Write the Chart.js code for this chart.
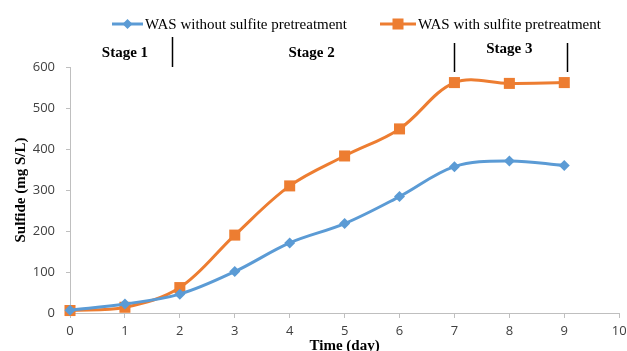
<!DOCTYPE html>
<html>
<head>
<meta charset="utf-8">
<script src="https://cdn.jsdelivr.net/npm/chart.js@4/dist/chart.umd.min.js"></script>
<style>
  html, body { margin: 0; padding: 0; background: #fff; }
  #wrap { width: 627px; height: 351px; }
</style>
</head>
<body>
<div id="wrap"><canvas id="sulfideChart" width="627" height="351"></canvas></div>
<script>
const days = [0, 1, 2, 3, 4, 5, 6, 7, 8, 9];
const withoutSulfite = [7, 22, 46, 101, 171, 218, 284, 357, 371, 360];
const withSulfite = [6, 14, 62, 190, 310, 383, 449, 562, 560, 562];
const seriesNames = ["WAS without sulfite pretreatment", "WAS with sulfite pretreatment"];
const stageNames = ["Stage 1", "Stage 2", "Stage 3"];
const stageCenters = [1, 4.4, 8];
const stageDividers = [1.85, 7, 9.05];

const BLUE = "#5B9BD5";
const ORANGE = "#ED7D31";
const AXIS = "#bfbfbf";

// legend + stage annotations drawn on top
const annotations = {
  id: "annotations",
  afterDraw(chart) {
    const { ctx, chartArea, scales } = chart;
    const x = scales.x;
    ctx.save();

    // legend
    ctx.font = "15px 'Liberation Serif'";
    ctx.textBaseline = "middle";
    ctx.textAlign = "left";
    const legendY = 24;
    const items = [
      { start: 112, len: 31, color: BLUE, style: "diamond", text: seriesNames[0] },
      { start: 380, len: 36, color: ORANGE, style: "square", text: seriesNames[1] },
    ];
    items.forEach((it) => {
      ctx.strokeStyle = it.color;
      ctx.lineWidth = 3;
      ctx.beginPath();
      ctx.moveTo(it.start, legendY);
      ctx.lineTo(it.start + it.len, legendY);
      ctx.stroke();
      const cx = it.start + it.len / 2;
      ctx.fillStyle = it.color;
      if (it.style === "diamond") {
        ctx.beginPath();
        ctx.moveTo(cx, legendY - 5);
        ctx.lineTo(cx + 5, legendY);
        ctx.lineTo(cx, legendY + 5);
        ctx.lineTo(cx - 5, legendY);
        ctx.closePath();
        ctx.fill();
      } else {
        ctx.fillRect(cx - 5.5, legendY - 5.5, 11, 11);
      }
      ctx.fillStyle = "#000";
      ctx.fillText(it.text, it.start + it.len + 2, legendY + 1);
    });

    // stage labels
    ctx.font = "bold 15px 'Liberation Serif'";
    ctx.textAlign = "center";
    const labelY = [chartArea.top - 14, chartArea.top - 14, chartArea.top - 18];
    stageNames.forEach((name, i) => {
      ctx.fillText(name, x.getPixelForValue(stageCenters[i]), labelY[i]);
    });

    // stage divider lines
    ctx.strokeStyle = "#000";
    ctx.lineWidth = 1.5;
    const spans = [[-30, 0], [-24, 5], [-24, 5]];
    stageDividers.forEach((d, i) => {
      const px = Math.round(x.getPixelForValue(d)) + 0.5;
      ctx.beginPath();
      ctx.moveTo(px, chartArea.top + spans[i][0]);
      ctx.lineTo(px, chartArea.top + spans[i][1]);
      ctx.stroke();
    });
    ctx.restore();
  },
};

const ctx = document.getElementById("sulfideChart").getContext("2d");

new Chart(ctx, {
  type: "line",
  data: {
    datasets: [
      {
        label: seriesNames[0],
        data: days.map((d, i) => ({ x: d, y: withoutSulfite[i] })),
        borderColor: BLUE,
        backgroundColor: BLUE,
        borderWidth: 3,
        tension: 0.35,
        pointStyle: "rectRot",
        pointRadius: 5.5,
        pointBorderWidth: 0,
      },
      {
        label: seriesNames[1],
        data: days.map((d, i) => ({ x: d, y: withSulfite[i] })),
        borderColor: ORANGE,
        backgroundColor: ORANGE,
        borderWidth: 3,
        tension: 0.35,
        pointStyle: "rect",
        pointRadius: 7.8,
        pointBorderWidth: 0,
      },
    ],
  },
  options: {
    responsive: false,
    animation: false,
    clip: false,
    layout: { padding: { top: 67, right: 7, bottom: 0, left: 0 } },
    plugins: {
      legend: { display: false },
      tooltip: { enabled: false },
    },
    scales: {
      x: {
        type: "linear",
        min: 0,
        max: 10,
        afterFit(scale) {
          scale.height = 38;
          scale.paddingLeft = 0;
          scale.paddingRight = 0;
        },
        grid: { drawOnChartArea: false, drawTicks: true, tickLength: 5, color: AXIS },
        border: { color: AXIS, width: 1 },
        ticks: {
          stepSize: 1,
          padding: 5,
          color: "#404040",
          maxRotation: 0,
          font: { family: "'Open Sans'", size: 13 },
        },
        title: {
          display: true,
          text: "Time (day)",
          color: "#000",
          padding: { top: 0, bottom: -4 },
          font: { family: "'Liberation Serif'", size: 15, weight: "bold" },
        },
      },
      y: {
        min: 0,
        max: 600,
        afterFit(scale) {
          scale.width = 70;
          scale.paddingTop = 0;
          scale.paddingBottom = 0;
        },
        grid: { drawOnChartArea: false, drawTicks: true, tickLength: 4, color: AXIS },
        border: { color: AXIS, width: 1 },
        ticks: {
          stepSize: 100,
          padding: 11,
          color: "#404040",
          font: { family: "'Open Sans'", size: 13 },
        },
        title: {
          display: true,
          text: "Sulfide (mg S/L)",
          color: "#000",
          padding: { top: 12, bottom: 0 },
          font: { family: "'Liberation Serif'", size: 15, weight: "bold" },
        },
      },
    },
  },
  plugins: [annotations],
});
</script>
</body>
</html>
